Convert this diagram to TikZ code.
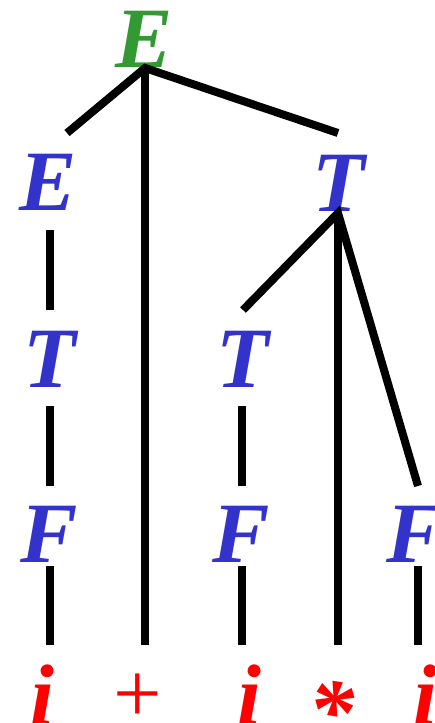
\documentclass[tikz,border=0pt]{standalone}
\usepackage{fontspec}
\setmainfont{Liberation Serif}
\definecolor{cgreen}{RGB}{51,153,51}
\definecolor{cblue}{RGB}{51,51,204}
\definecolor{cred}{RGB}{255,0,0}
\tikzset{
  sym/.style={anchor=base,inner sep=0pt,font=\fontsize{86}{86}\selectfont\bfseries\itshape},
  nt/.style={sym,text=cblue},
  tm/.style={sym,text=cred},
  edge/.style={line width=8pt,line cap=butt,black}
}
\begin{document}
\begin{tikzpicture}[x=1pt,y=-1pt]
\clip (0,0) rectangle (435,723);
\useasboundingbox (0,0) rectangle (435,723);
% nodes
\node[sym,text=cgreen] (E0) at (144,67) {E};
\node[nt] (E1) at (48,210) {E};
\node[nt] (T1) at (339,211) {T};
\node[nt] (T2) at (50,387) {T};
\node[nt] (T3) at (243,387) {T};
\node[nt] (F1) at (49,562) {F};
\node[nt] (F2) at (241,562) {F};
\node[nt] (F3) at (415,562) {F};
\node[tm] (i1) at (42,724) {i};
\node[tm,font=\fontsize{86}{86}\selectfont] (pl) at (138,722) {+};
\node[tm] (i2) at (249,724) {i};
\node[tm,font=\fontsize{92}{92}\selectfont\bfseries\itshape] (st) at (331,742) {*};
\node[tm] (i3) at (425,724) {i};
% connector ends
\coordinate (jE0) at (145,68);
\coordinate (aE1) at (67,133);
\coordinate (aT1) at (338,133);
\coordinate (bPl) at (145,645);
\coordinate (uE1) at (50,230);
\coordinate (dT2) at (50,310);
\coordinate (uT2) at (50,406);
\coordinate (dF1) at (50,486);
\coordinate (uF1) at (50,566);
\coordinate (di1) at (50,645);
\coordinate (jT1) at (338,213);
\coordinate (aT3) at (243,310);
\coordinate (bSt) at (338,645);
\coordinate (aF3) at (418,486);
\coordinate (uT3) at (242,406);
\coordinate (dF2) at (242,486);
\coordinate (uF2) at (242,566);
\coordinate (di2) at (242,645);
\coordinate (uF3) at (418,566);
\coordinate (di3) at (418,645);
% connectors
\draw[edge] (aE1) -- (jE0) -- (aT1);
\draw[edge] (jE0) -- (bPl);
\draw[edge] (uE1) -- (dT2);
\draw[edge] (uT2) -- (dF1);
\draw[edge] (uF1) -- (di1);
\draw[edge] (aT3) -- (jT1) -- (aF3);
\draw[edge] (jT1) -- (bSt);
\draw[edge] (uT3) -- (dF2);
\draw[edge] (uF2) -- (di2);
\draw[edge] (uF3) -- (di3);
\end{tikzpicture}
\end{document}
